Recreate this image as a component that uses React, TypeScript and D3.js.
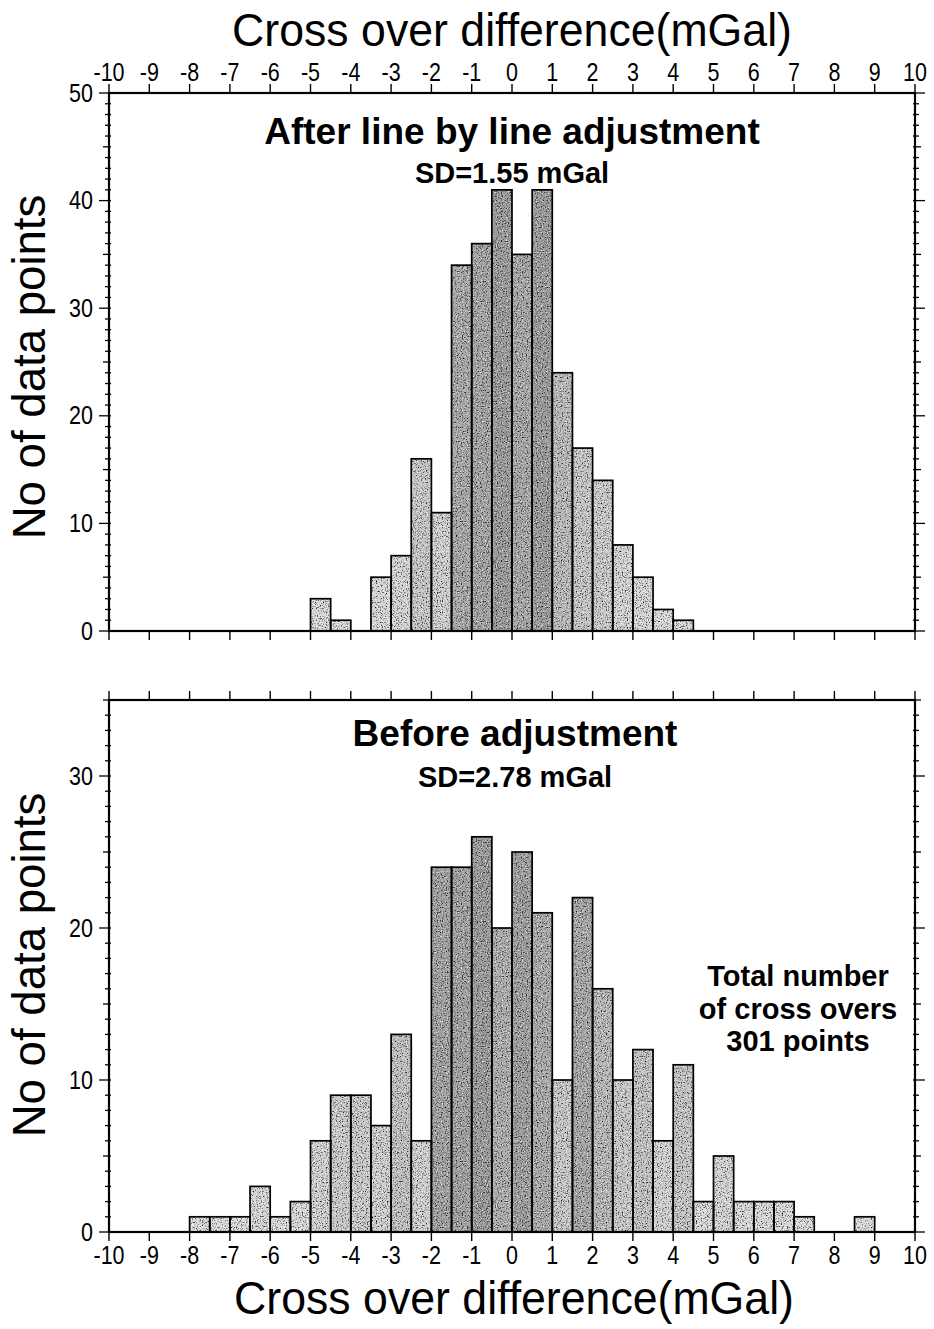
import React from "react";
import * as d3 from "d3";

// ---------- data ----------
const xTickValues = [-10, -9, -8, -7, -6, -5, -4, -3, -2, -1, 0, 1, 2, 3, 4, 5, 6, 7, 8, 9, 10];

// Top histogram: "After line by line adjustment" (bin lower edges, bin width 0.5 mGal)
const topBins = [-5, -4.5, -4, -3.5, -3, -2.5, -2, -1.5, -1, -0.5, 0, 0.5, 1, 1.5, 2, 2.5, 3, 3.5, 4];
const topCounts = [3, 1, 0, 5, 7, 16, 11, 34, 36, 41, 35, 41, 24, 17, 14, 8, 5, 2, 1];
const topYTicks = [0, 10, 20, 30, 40, 50];

// Bottom histogram: "Before adjustment"
const bottomBins = [
  -8, -7.5, -7, -6.5, -6, -5.5, -5, -4.5, -4, -3.5, -3, -2.5, -2, -1.5, -1, -0.5, 0, 0.5,
  1, 1.5, 2, 2.5, 3, 3.5, 4, 4.5, 5, 5.5, 6, 6.5, 7, 7.5, 8, 8.5,
];
const bottomCounts = [
  1, 1, 1, 3, 1, 2, 6, 9, 9, 7, 13, 6, 24, 24, 26, 20, 25, 21,
  10, 22, 16, 10, 12, 6, 11, 2, 5, 2, 2, 2, 1, 0, 0, 1,
];
const bottomYTicks = [0, 10, 20, 30];

const binWidth = 0.5;
const xLabel = "Cross over difference(mGal)";
const yLabel = "No of data points";
const topTitle = "After line by line adjustment";
const topSD = "SD=1.55 mGal";
const bottomTitle = "Before adjustment";
const bottomSD = "SD=2.78 mGal";
const noteLines = ["Total number", "of cross overs", "301 points"];

// ---------- layout ----------
const W = 934;
const H = 1329;
const FONT = "'Liberation Sans', Arial, Helvetica, sans-serif";
const LEFT = 109;
const RIGHT = 915;

const x = d3.scaleLinear().domain([-10, 10]).range([LEFT, RIGHT]);
const yTop = d3.scaleLinear().domain([0, 50]).range([631, 93]);
const yBot = d3.scaleLinear().domain([0, 35]).range([1232, 700]);

const shade = (v: number, max: number) =>
  d3.interpolateRgb("#dcdcdc", "#9c9c9c")(Math.pow(v / max, 1.2));

function Panel({
  bins,
  counts,
  y,
  yTicks,
  yMax,
  tickLabelsBottom,
  tickLabelsTop,
}: {
  bins: number[];
  counts: number[];
  y: d3.ScaleLinear<number, number>;
  yTicks: number[];
  yMax: number;
  tickLabelsBottom: boolean;
  tickLabelsTop: boolean;
}) {
  const y0 = y(0);
  const y1 = y(yMax);
  const maxC = d3.max(counts) as number;
  const minor = d3.range(0, yMax + 1, 1);
  const bars = bins
    .map((b, i) => ({ b, c: counts[i] }))
    .filter((d) => d.c > 0);
  return (
    <g>
      <g filter="url(#stipple)">
        {bars.map((d, i) => (
          <rect
            key={i}
            x={x(d.b)}
            y={y(d.c)}
            width={x(d.b + binWidth) - x(d.b)}
            height={y0 - y(d.c)}
            fill={shade(d.c, maxC)}
          />
        ))}
      </g>
      {bars.map((d, i) => (
        <rect
          key={"o" + i}
          x={x(d.b)}
          y={y(d.c)}
          width={x(d.b + binWidth) - x(d.b)}
          height={y0 - y(d.c)}
          fill="none"
          stroke="#000"
          strokeWidth={1.7}
        />
      ))}
      <rect x={LEFT} y={y1} width={RIGHT - LEFT} height={y0 - y1} fill="none" stroke="#000" strokeWidth={2.2} />
      {minor.map((v) => {
        const len = v % 10 === 0 ? 10 : v % 5 === 0 ? 6 : 4;
        return (
          <g key={"yt" + v}>
            <line x1={LEFT - len} x2={LEFT + 2} y1={y(v)} y2={y(v)} stroke="#000" strokeWidth={1.3} />
            <line x1={RIGHT - 2} x2={RIGHT + len} y1={y(v)} y2={y(v)} stroke="#000" strokeWidth={1.3} />
          </g>
        );
      })}
      {yTicks.map((v) => (
        <text
          key={"yl" + v}
          transform={`translate(${LEFT - 16},${y(v) + 8.5}) scale(0.86,1)`}
          textAnchor="end"
          fontFamily={FONT}
          fontSize={25}
        >
          {v}
        </text>
      ))}
      {xTickValues.map((v) => (
        <g key={"xt" + v}>
          <line x1={x(v)} x2={x(v)} y1={y0 - 1} y2={y0 + 9} stroke="#000" strokeWidth={1.4} />
          <line x1={x(v)} x2={x(v)} y1={y1 + 1} y2={y1 - 9} stroke="#000" strokeWidth={1.4} />
        </g>
      ))}
      {tickLabelsBottom &&
        xTickValues.map((v) => (
          <text
            key={"xb" + v}
            transform={`translate(${x(v)},${y0 + 32}) scale(0.86,1)`}
            textAnchor="middle"
            fontFamily={FONT}
            fontSize={25}
          >
            {v}
          </text>
        ))}
      {tickLabelsTop &&
        xTickValues.map((v) => (
          <text
            key={"xtp" + v}
            transform={`translate(${x(v)},${y1 - 12}) scale(0.86,1)`}
            textAnchor="middle"
            fontFamily={FONT}
            fontSize={25}
          >
            {v}
          </text>
        ))}
    </g>
  );
}

export default function App() {
  return (
    <svg
      width={W}
      height={H}
      viewBox={`0 0 ${W} ${H}`}
      style={{ display: "block", position: "absolute", left: 0, top: 0, background: "#fff" }}
    >
      <defs>
        <filter
          id="stipple"
          filterUnits="userSpaceOnUse"
          x={0}
          y={0}
          width={W}
          height={H}
          colorInterpolationFilters="sRGB"
        >
          <feTurbulence type="fractalNoise" baseFrequency="0.8" numOctaves={2} seed={4} result="noise" />
          <feColorMatrix
            in="noise"
            type="matrix"
            values="0 0 0 0 0  0 0 0 0 0  0 0 0 0 0  -3 0 0 0 1.4"
            result="dark"
          />
          <feComposite in="dark" in2="SourceAlpha" operator="in" result="darkIn" />
          <feColorMatrix
            in="noise"
            type="matrix"
            values="0 0 0 0 1  0 0 0 0 1  0 0 0 0 1  3 0 0 0 -1.72"
            result="light"
          />
          <feComposite in="light" in2="SourceAlpha" operator="in" result="lightIn" />
          <feMerge>
            <feMergeNode in="SourceGraphic" />
            <feMergeNode in="darkIn" />
            <feMergeNode in="lightIn" />
          </feMerge>
        </filter>
      </defs>
      <rect width={W} height={H} fill="#fff" />

      <text transform="translate(512,46) scale(0.95,1)" textAnchor="middle" fontFamily={FONT} fontSize={47}>
        {xLabel}
      </text>

      <Panel bins={topBins} counts={topCounts} y={yTop} yTicks={topYTicks} yMax={50} tickLabelsBottom={false} tickLabelsTop={true} />
      <Panel bins={bottomBins} counts={bottomCounts} y={yBot} yTicks={bottomYTicks} yMax={35} tickLabelsBottom={true} tickLabelsTop={false} />

      <text x={512} y={144} textAnchor="middle" fontFamily={FONT} fontWeight="bold" fontSize={37}>
        {topTitle}
      </text>
      <text x={512} y={183} textAnchor="middle" fontFamily={FONT} fontWeight="bold" fontSize={29}>
        {topSD}
      </text>

      <text x={515} y={746} textAnchor="middle" fontFamily={FONT} fontWeight="bold" fontSize={37}>
        {bottomTitle}
      </text>
      <text x={515} y={787} textAnchor="middle" fontFamily={FONT} fontWeight="bold" fontSize={29}>
        {bottomSD}
      </text>

      {noteLines.map((t, i) => (
        <text key={t} x={798} y={986 + i * 32.5} textAnchor="middle" fontFamily={FONT} fontWeight="bold" fontSize={29}>
          {t}
        </text>
      ))}

      <text transform="translate(45,367) rotate(-90) scale(0.97,1)" textAnchor="middle" fontFamily={FONT} fontSize={47}>
        {yLabel}
      </text>
      <text transform="translate(45,965) rotate(-90) scale(0.97,1)" textAnchor="middle" fontFamily={FONT} fontSize={47}>
        {yLabel}
      </text>

      <text transform="translate(514,1314) scale(0.95,1)" textAnchor="middle" fontFamily={FONT} fontSize={47}>
        {xLabel}
      </text>
    </svg>
  );
}
